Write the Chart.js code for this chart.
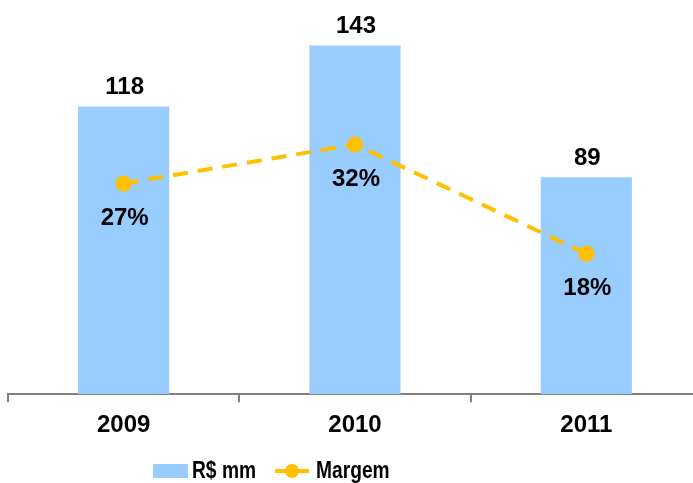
<!DOCTYPE html>
<html>
<head>
<meta charset="utf-8">
<script src="https://cdn.jsdelivr.net/npm/chart.js@4/dist/chart.umd.min.js"></script>
<style>
  html, body { margin: 0; padding: 0; background: #fff; overflow: hidden; }
  #wrap { width: 693px; height: 483px; overflow: hidden; }
  canvas { display: block; }
</style>
</head>
<body>
<div id="wrap"><canvas id="c" width="702" height="483"></canvas></div>
<script>
// Receita (R$ milhões) e margem por ano
const years = ['2009', '2010', '2011'];
const revenue = [118, 143, 89];
const margin = [27, 32, 18];

const legendNames = ['R$ mm', 'Margem'];

const BAR_COLOR = '#99CCFF';
const LINE_COLOR = '#FFC000';
const AXIS_COLOR = '#808080';
const FONT = "'Liberation Sans', Arial, sans-serif";

// Value labels: numbers above bars, percentages under the line points
const valueLabels = {
  id: 'valueLabels',
  afterDatasetsDraw(chart) {
    const ctx = chart.ctx;
    ctx.save();
    ctx.font = 'bold 24px ' + FONT;
    ctx.fillStyle = '#000';
    ctx.textAlign = 'center';
    ctx.textBaseline = 'middle';
    chart.data.datasets.forEach((ds, i) => {
      const meta = chart.getDatasetMeta(i);
      meta.data.forEach((el, j) => {
        const v = ds.data[j];
        if (ds.type === 'bar') {
          ctx.fillText(String(v), el.x + 1, el.y - 19);
        } else {
          ctx.fillText(v + '%', el.x + 1, el.y + 35);
        }
      });
    });
    ctx.restore();
  }
};

// Condensed legend text
function narrowText(ctx, text, x, y) {
  ctx.save();
  ctx.translate(x, y);
  ctx.scale(0.8, 1);
  ctx.fillText(text, 0, 0);
  ctx.restore();
  return ctx.measureText(text).width * 0.8;
}

// Legend drawn under the axis
const bottomLegend = {
  id: 'bottomLegend',
  afterDraw(chart) {
    const ctx = chart.ctx;
    const cy = 471;
    ctx.save();
    ctx.font = 'bold 24px ' + FONT;
    ctx.textBaseline = 'middle';
    ctx.textAlign = 'left';
    let x = 153;
    ctx.fillStyle = BAR_COLOR;
    ctx.fillRect(x, cy - 7, 35, 14);
    x += 39;
    ctx.fillStyle = '#000';
    x += narrowText(ctx, legendNames[0], x, cy) + 19;
    ctx.strokeStyle = LINE_COLOR;
    ctx.lineWidth = 4;
    ctx.beginPath();
    ctx.moveTo(x, cy);
    ctx.lineTo(x + 34, cy);
    ctx.stroke();
    ctx.fillStyle = LINE_COLOR;
    ctx.beginPath();
    ctx.arc(x + 17, cy, 7, 0, Math.PI * 2);
    ctx.fill();
    x += 41;
    ctx.fillStyle = '#000';
    narrowText(ctx, legendNames[1], x, cy);
    ctx.restore();
  }
};

new Chart(document.getElementById('c'), {
  data: {
    labels: years,
    datasets: [
      {
        type: 'line',
        label: legendNames[1],
        data: margin,
        yAxisID: 'yPct',
        order: 0,
        borderColor: LINE_COLOR,
        borderWidth: 4,
        borderDash: [15, 10],
        pointRadius: 8,
        pointHoverRadius: 8,
        pointBackgroundColor: LINE_COLOR,
        pointBorderColor: LINE_COLOR,
        pointBorderWidth: 0,
        fill: false,
        tension: 0
      },
      {
        type: 'bar',
        label: legendNames[0],
        data: revenue,
        yAxisID: 'y',
        order: 1,
        backgroundColor: BAR_COLOR,
        borderWidth: 0,
        categoryPercentage: 0.394,
        barPercentage: 1
      }
    ]
  },
  options: {
    responsive: false,
    animation: false,
    devicePixelRatio: 1,
    layout: { autoPadding: false, padding: { left: 8, right: 0, top: 4, bottom: 34 } },
    plugins: {
      legend: { display: false },
      tooltip: { enabled: false }
    },
    scales: {
      x: {
        offset: true,
        grid: {
          offset: true,
          display: true,
          drawOnChartArea: false,
          drawTicks: true,
          tickLength: 8,
          color: AXIS_COLOR,
          lineWidth: 2
        },
        border: { display: true, color: AXIS_COLOR, width: 2 },
        ticks: {
          color: '#000',
          padding: 9,
          font: { family: FONT, size: 24, weight: 'bold' }
        }
      },
      y: { display: false, min: 0, max: 160 },
      yPct: { display: false, min: 0, max: 50, position: 'right' }
    }
  },
  plugins: [valueLabels, bottomLegend]
});
</script>
</body>
</html>
